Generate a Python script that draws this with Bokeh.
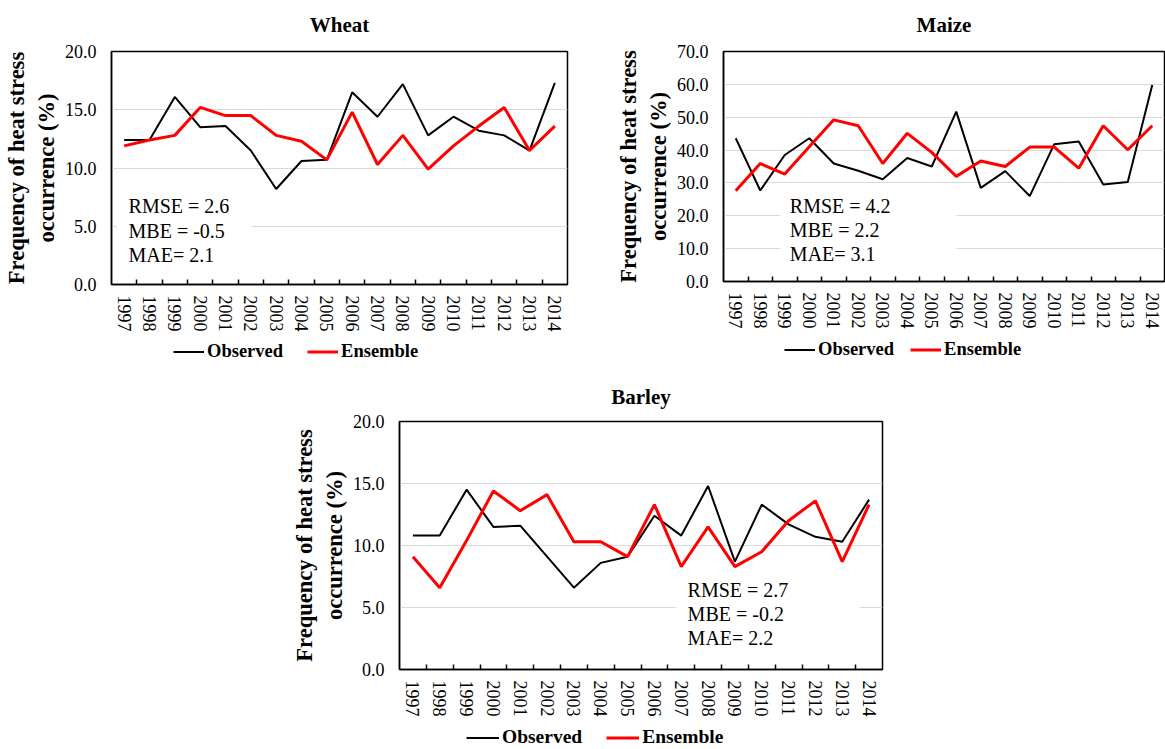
from bokeh.plotting import figure
from bokeh.models import (FixedTicker, Legend, LegendItem, Label, Range1d,
                          PrintfTickFormatter, Spacer)
from bokeh.layouts import row, column
from bokeh.embed import file_html
from bokeh.resources import INLINE

years = list(range(1997, 2015))
year_labels = [str(y) for y in years]

wheat_observed = [12.4, 12.4, 16.1, 13.5, 13.6, 11.5, 8.2, 10.6, 10.7, 16.5, 14.4, 17.2, 12.8, 14.4, 13.2, 12.8, 11.5, 17.3]
wheat_ensemble = [11.9, 12.4, 12.8, 15.2, 14.5, 14.5, 12.8, 12.3, 10.7, 14.8, 10.3, 12.8, 9.9, 11.9, 13.6, 15.2, 11.5, 13.6]

maize_observed = [43.6, 27.7, 38.5, 43.6, 35.9, 33.7, 31.1, 37.6, 35.0, 51.7, 28.5, 33.6, 26.0, 41.8, 42.6, 29.5, 30.3, 59.8]
maize_ensemble = [27.6, 35.9, 32.7, 41.0, 49.2, 47.4, 35.9, 45.1, 39.3, 32.0, 36.7, 35.0, 40.9, 40.9, 34.5, 47.4, 40.1, 47.4]

barley_observed = [10.8, 10.8, 14.5, 11.5, 11.6, 9.1, 6.6, 8.6, 9.1, 12.4, 10.8, 14.8, 8.7, 13.3, 11.7, 10.7, 10.3, 13.7]
barley_ensemble = [9.1, 6.6, 10.4, 14.4, 12.8, 14.1, 10.3, 10.3, 9.1, 13.3, 8.3, 11.5, 8.3, 9.5, 12.0, 13.6, 8.7, 13.3]

series_names = ["Observed", "Ensemble"]
series_colors = ["black", "#ff0000"]
series_widths = [2, 3]

wheat_stats = "RMSE = 2.6\nMBE = -0.5\nMAE= 2.1"
maize_stats = "RMSE = 4.2\nMBE = 2.2\nMAE= 3.1"
barley_stats = "RMSE = 2.7\nMBE = -0.2\nMAE= 2.2"

y_title = "Frequency of heat stress\noccurrence (%)"
SERIF = "Liberation Serif"


def panel(title, obs, ens, ymax, ystep, stats, stat_xy, stat_pad,
          width, height, borders, title_standoff):
    p = figure(width=width, height=height, output_backend="svg",
               toolbar_location=None,
               x_range=Range1d(years[0] - 0.5, years[-1] + 0.5),
               y_range=Range1d(0, ymax),
               min_border_left=borders[0], min_border_right=borders[1],
               min_border_top=borders[2], min_border_bottom=borders[3])
    p.title.text = title
    p.title.align = "center"
    p.title.vertical_align = "top"
    p.title.text_font = SERIF
    p.title.text_font_size = "21px"
    p.title.text_font_style = "bold"
    p.title.text_color = "black"
    p.title.standoff = title_standoff

    p.outline_line_color = "black"
    p.outline_line_width = 1.5
    p.background_fill_color = "white"
    p.border_fill_color = "white"

    # x axis (category style: labels centred, ticks between categories)
    p.xaxis.ticker = FixedTicker(ticks=years,
                                 minor_ticks=[y + 0.5 for y in years[:-1]])
    p.xaxis.major_label_overrides = {y: s for y, s in zip(years, year_labels)}
    p.xaxis.major_label_orientation = "vertical"
    p.xaxis.major_tick_in = 0
    p.xaxis.major_tick_out = 0
    p.xaxis.minor_tick_in = 5
    p.xaxis.minor_tick_out = 0
    p.xaxis.minor_tick_line_color = "black"
    p.xaxis.minor_tick_line_width = 1.5
    p.xaxis.axis_line_color = "black"
    p.xaxis.axis_line_width = 1.5
    p.xaxis.major_label_text_font = SERIF
    p.xaxis.major_label_text_font_size = "18px"
    p.xaxis.major_label_text_color = "black"
    p.xaxis.major_label_standoff = 11
    p.xgrid.visible = False

    # y axis
    p.yaxis.ticker = FixedTicker(ticks=[i * ystep for i in range(int(ymax / ystep) + 1)])
    p.yaxis.formatter = PrintfTickFormatter(format="%.1f")
    p.yaxis.major_tick_in = 0
    p.yaxis.major_tick_out = 0
    p.yaxis.minor_tick_line_color = None
    p.yaxis.axis_line_color = "black"
    p.yaxis.axis_line_width = 1.5
    p.yaxis.major_label_text_font = SERIF
    p.yaxis.major_label_text_font_size = "18px"
    p.yaxis.major_label_text_color = "black"
    p.yaxis.major_label_standoff = 15
    p.yaxis.axis_label = y_title
    p.yaxis.axis_label_text_font = SERIF
    p.yaxis.axis_label_text_font_size = "22.5px"
    p.yaxis.axis_label_text_font_style = "bold"
    p.yaxis.axis_label_text_color = "black"
    p.yaxis.axis_label_standoff = 3
    p.ygrid.grid_line_color = "#d9d9d9"
    p.ygrid.grid_line_width = 1.2

    p.line(years, obs, line_color=series_colors[0], line_width=series_widths[0])
    p.line(years, ens, line_color=series_colors[1], line_width=series_widths[1])

    lab = Label(x=stat_xy[0], y=stat_xy[1], text=stats,
                text_font=SERIF, text_font_size="20px", text_color="black",
                text_align="left", text_baseline="top", text_line_height=1.1,
                background_fill_color="white", padding=stat_pad)
    p.add_layout(lab)
    return p


def legend_strip(width, height, loc, pad, obs, ens, font_size, glyph_w, spacing):
    # Legend drawn in its own strip; the series are plotted out of view so
    # that only their legend entries show.
    f = figure(width=width, height=height, output_backend="svg",
               toolbar_location=None, x_axis_type=None, y_axis_type=None,
               x_range=Range1d(0, 1), y_range=Range1d(0, 1), min_border=0)
    f.outline_line_color = None
    items = []
    for name, col, w, vals in zip(series_names, series_colors, series_widths, [obs, ens]):
        r = f.line(years, vals, line_color=col, line_width=w)
        items.append(LegendItem(label=name, renderers=[r]))
    leg = Legend(items=items, orientation="horizontal", location=loc,
                 label_text_font=SERIF, label_text_font_size=font_size,
                 label_text_font_style="bold", label_text_color="black",
                 glyph_width=glyph_w, glyph_height=17, label_height=17,
                 label_standoff=3, spacing=spacing, padding=pad, margin=0,
                 border_line_color=None, background_fill_alpha=0)
    f.add_layout(leg)
    return f


p1 = panel("Wheat", wheat_observed, wheat_ensemble, 20, 5, wheat_stats,
           (1996.7, 7.9), dict(left=12, right=22, top=3, bottom=6),
           612, 338, (110, 45, 51, 54), 25)
l1 = legend_strip(612, 24, (62, 0), 4, wheat_observed, wheat_ensemble,
                  "18.5px", 31, 24)
p2 = panel("Maize", maize_observed, maize_ensemble, 70, 10, maize_stats,
           (1998.8, 28.2), dict(left=10, right=66, top=6, bottom=6),
           553, 338, (107, 1, 51, 57), 25)
l2 = legend_strip(553, 24, (61, 2), 4, maize_observed, maize_ensemble,
                  "18.5px", 31, 16)
p3 = panel("Barley", barley_observed, barley_ensemble, 20, 5, barley_stats,
           (2006.79, 7.8), dict(left=12, right=71, top=6, bottom=6),
           612, 361, (111, 18, 59, 54), 22)
l3 = legend_strip(612, 25, (67, 0), 4, barley_observed, barley_ensemble,
                  "19.5px", 33, 24)

layout = column(row(column(p1, l1), column(p2, l2)),
                row(Spacer(width=288, height=386), column(p3, l3)))

open("out.html", "w").write(file_html(layout, INLINE))
